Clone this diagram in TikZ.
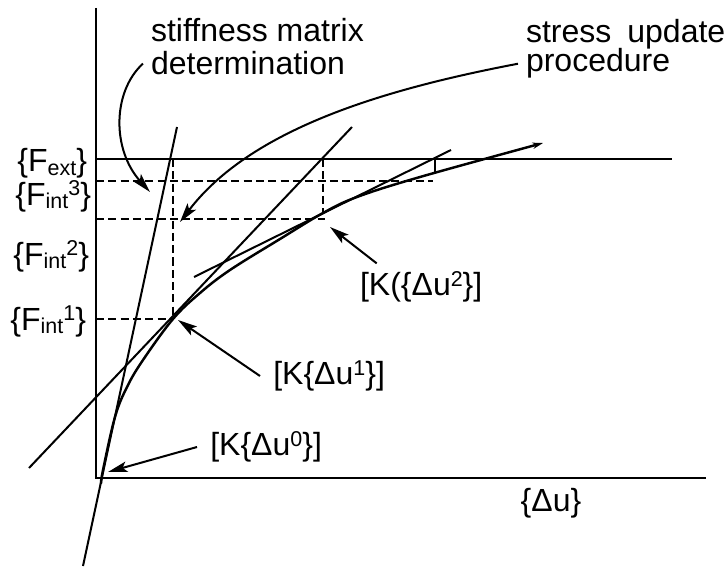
\documentclass[tikz,border=0pt]{standalone}
\usepackage{fontspec}
\setmainfont{Liberation Sans}
\usetikzlibrary{arrows.meta,positioning}
\newcommand{\upidx}[1]{\raisebox{0.3em}{\fontsize{6.1}{6}\selectfont #1}}
\newcommand{\dnidx}[1]{\raisebox{-0.1em}{\fontsize{6.1}{6}\selectfont #1}}

\begin{document}
\begin{tikzpicture}[x=0.01cm,y=-0.01cm,line width=0.57pt,
  font=\fontsize{9.1}{9.4}\selectfont,
  arr/.style={-{Stealth[length=5.5pt,width=3pt,inset=1.2pt]}},
  lvl/.style={dash pattern=on 2.3pt off 1.2pt},
  klbl/.style={inner sep=3.5pt,anchor=west},
  flbl/.style={inner sep=0pt,anchor=base east},
  note/.style={inner sep=2pt,anchor=base west}]
  \useasboundingbox (0,0) rectangle (728,567);
  % ---------- axes and load level
  \draw (96,8) -- (96,478) -- (706,478);
  \draw (96,159) -- (672,159);
  \node[flbl] (fext) at (88,172) {\{F\dnidx{ext}\}};
  \node[flbl] (fint3) at (92,205) {\{F\dnidx{int}\upidx{3}\}};
  \node[flbl] (fint2) at (90,265) {\{F\dnidx{int}\upidx{2}\}};
  \node[flbl] (fint1) at (87,330) {\{F\dnidx{int}\upidx{1}\}};
  \node[inner sep=0pt] (du) at (551,503) {\{Δu\}};
  % ---------- internal force levels
  \draw[lvl] (96,181) -- (433,181);
  \draw[lvl] (96,219) -- (325,219);
  \draw[lvl] (96,319) -- (173,319);
  \draw[lvl] (173,159) -- (173,319);
  \draw[lvl] (323,159) -- (323,213);
  \draw (435,159) -- (435,174);
  % ---------- tangents
  \draw (83,566) -- (177,127);
  \draw (29,468) -- (352,127);
  \draw (194,277) -- (451,150);
  % ---------- response curve
  \draw[line width=0.7pt,-{Stealth[length=3pt,width=1.8pt]}] plot[smooth,tension=0.6] coordinates {(101,484) (103,470) (115,417) (127,387) (143,360) (173,319) (200,293) (230,270) (280,239) (323,213) (357,197) (420,177) (543,143)};
  % ---------- labels
  \coordinate (t0) at (108,472);
  \coordinate (t1) at (178,320);
  \coordinate (t2) at (330,227);
  \coordinate (tsm) at (150,192);
  \coordinate (tsu) at (180,222);
  \node[klbl] (k0) at (197,447) {[K\{Δu\upidx{0}\}]};
  \node[klbl] (k1) at (260,376) {[K\{Δu\upidx{1}\}]};
  \node[inner sep=2pt,anchor=west] (k2) at (352,287) {[K(\{Δu\upidx{2}\}]};
  \draw[arr] (k0.west) -- (t0);
  \draw[arr] (k1.west) -- (t1);
  \draw[arr] (k2.152) -- (t2);
  \node[note] (sm1) at (143,42) {stiffness matrix};
  \node[note] (sm2) at (143,75) {determination};
  \node[note] (su1) at (518,43) {stress\hspace{0.5em}update};
  \node[note] (su2) at (518,72) {procedure};
  \draw[arr] (sm2.west) .. controls (112,92) and (112,150) .. (tsm);
  \draw[arr] (su2.west) .. controls (380,90) and (250,130) .. (tsu);
\end{tikzpicture}
\end{document}
